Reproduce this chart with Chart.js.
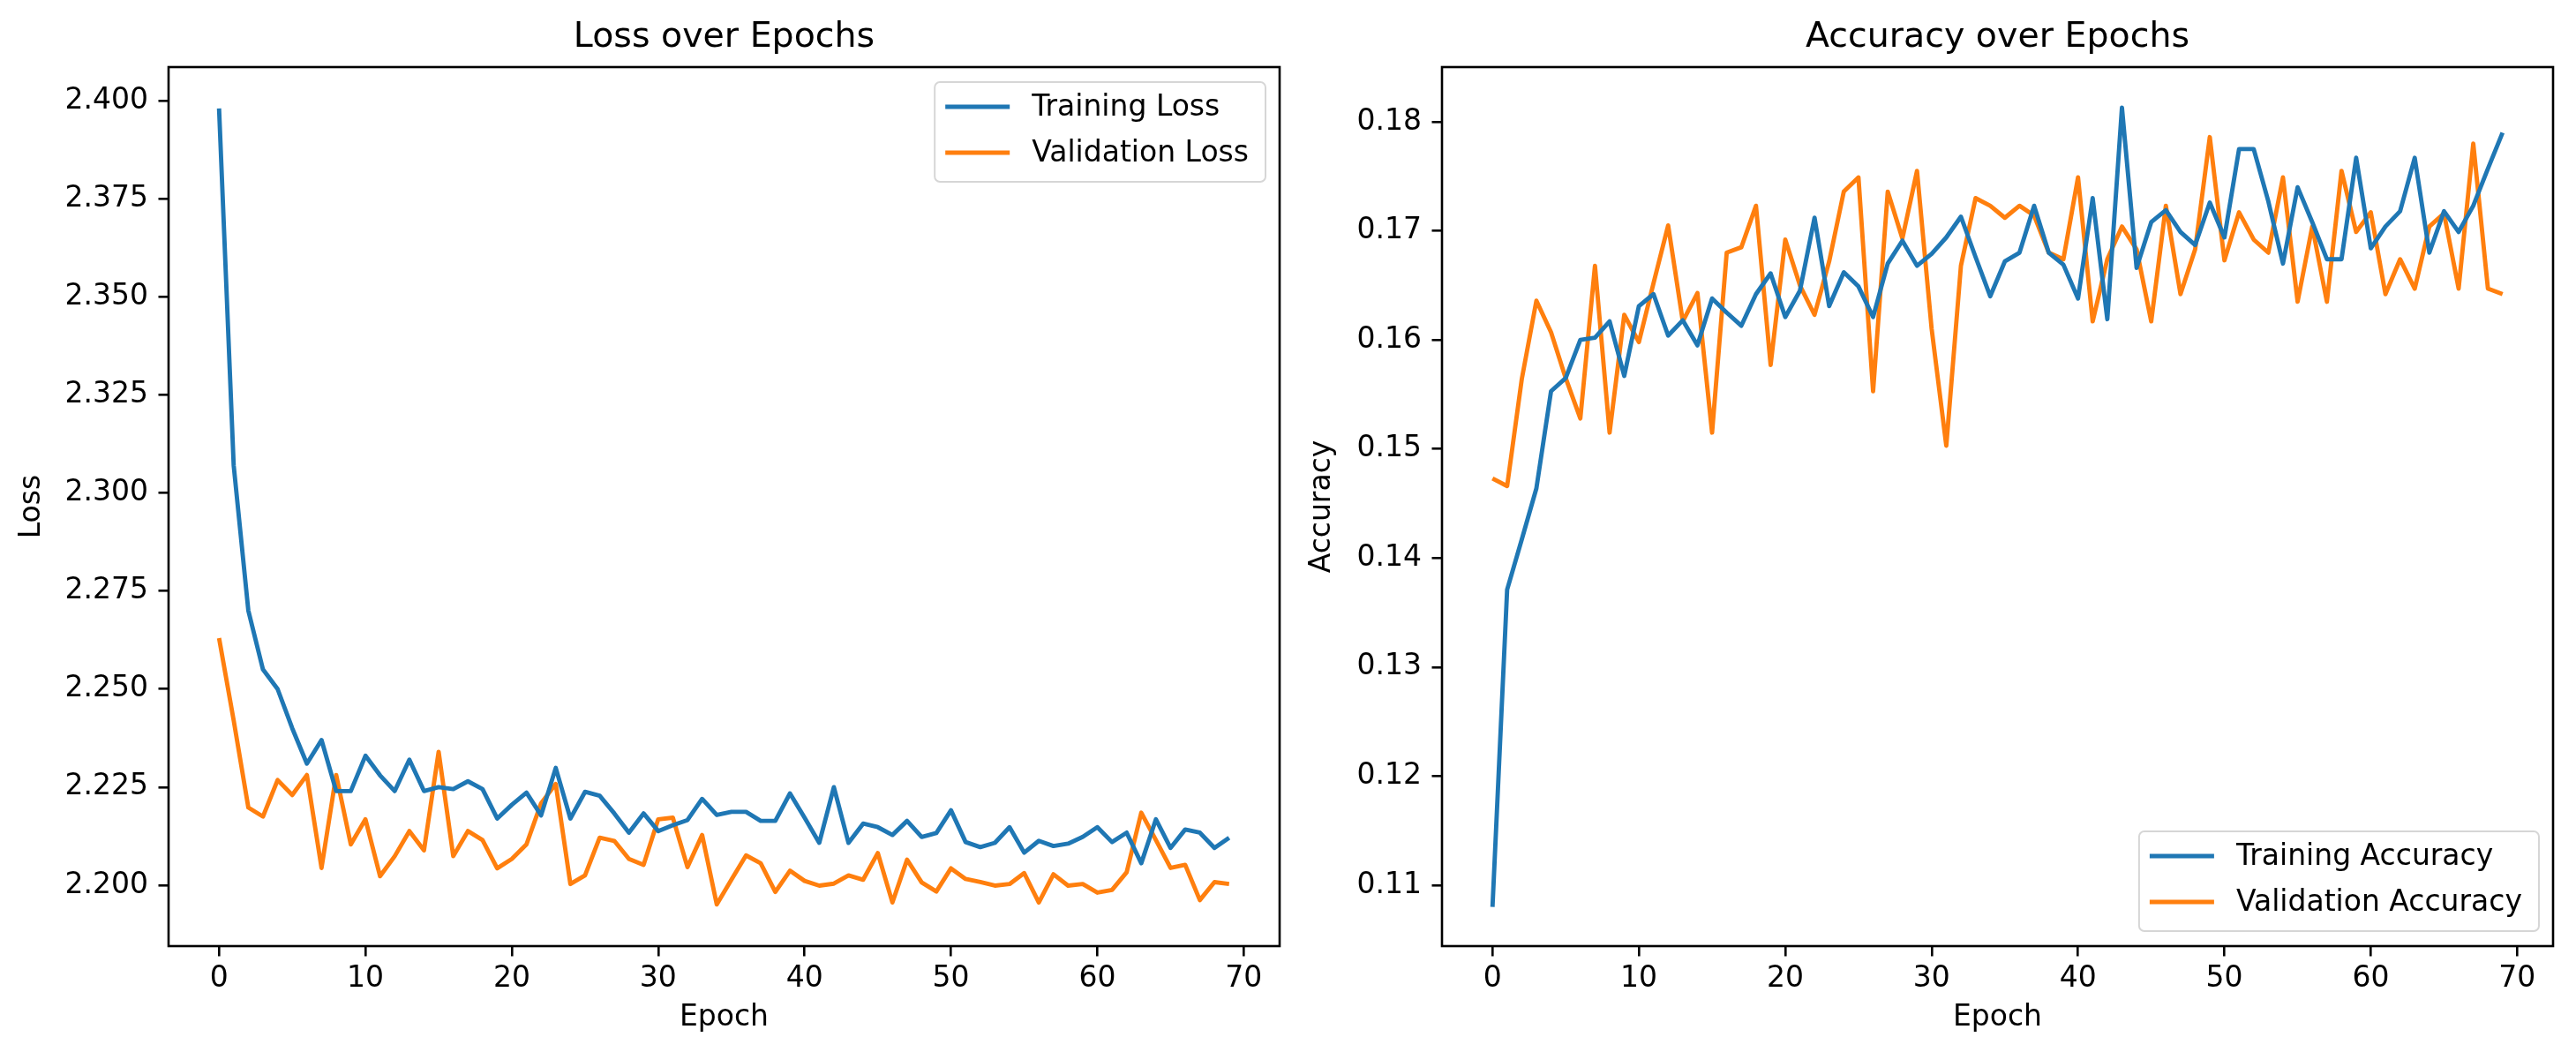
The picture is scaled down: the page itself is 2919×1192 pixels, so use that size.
<!DOCTYPE html>
<html>
<head>
<meta charset="utf-8">
<title>Loss and Accuracy over Epochs</title>
<script src="https://cdn.jsdelivr.net/npm/chart.js@4.4.1/dist/chart.umd.min.js"></script>
<style>
	body { margin: 0; background: #fff; }
	canvas { position: absolute; top: 0; }
</style>
</head>
<body>
<canvas id="lossChart" width="1460" height="1192" style="left:0"></canvas>
<canvas id="accChart" width="1459" height="1192" style="left:1460px"></canvas>
<script>
const epochs = [
	0, 1, 2, 3, 4, 5, 6, 7, 8, 9, 10, 11, 12, 13, 14, 15, 16, 17, 18, 19,
	20, 21, 22, 23, 24, 25, 26, 27, 28, 29, 30, 31, 32, 33, 34, 35, 36, 37, 38, 39,
	40, 41, 42, 43, 44, 45, 46, 47, 48, 49, 50, 51, 52, 53, 54, 55, 56, 57, 58, 59,
	60, 61, 62, 63, 64, 65, 66, 67, 68, 69,
];

const trainLoss = [
	2.398, 2.307, 2.270, 2.255, 2.250, 2.240, 2.231, 2.237, 2.224, 2.224,
	2.233, 2.228, 2.224, 2.232, 2.224, 2.225, 2.2245, 2.2265, 2.2245, 2.217,
	2.2205, 2.2236, 2.2178, 2.2299, 2.217, 2.2238, 2.2228, 2.2183, 2.2134, 2.2183,
	2.2138, 2.2153, 2.2166, 2.222, 2.2179, 2.2187, 2.2187, 2.2164, 2.2164, 2.2234,
	2.2172, 2.2108, 2.225, 2.2108, 2.2157, 2.2148, 2.2128, 2.2164, 2.2123, 2.2133,
	2.2191, 2.211, 2.2097, 2.2108, 2.2148, 2.2083, 2.2113, 2.21, 2.2106, 2.2123,
	2.2148, 2.211, 2.2134, 2.2056, 2.2168, 2.2095, 2.2142, 2.2134, 2.2095, 2.2121,
];

const valLoss = [
	2.263, 2.242, 2.2198, 2.2175, 2.2268, 2.223, 2.2281, 2.2044, 2.2281, 2.2104,
	2.2168, 2.2023, 2.2074, 2.2138, 2.2089, 2.234, 2.2074, 2.2138, 2.2115, 2.2043,
	2.2067, 2.2104, 2.2209, 2.2258, 2.2003, 2.2025, 2.2121, 2.2113, 2.2067, 2.2052,
	2.2168, 2.2172, 2.2046, 2.2128, 2.1951, 2.2014, 2.2076, 2.2056, 2.1983, 2.2037,
	2.2011, 2.1999, 2.2004, 2.2025, 2.2014, 2.2082, 2.1956, 2.2065, 2.2007, 2.1984,
	2.2043, 2.2016, 2.2008, 2.1999, 2.2003, 2.2031, 2.1956, 2.2028, 2.1999, 2.2003,
	2.1981, 2.1988, 2.2033, 2.2185, 2.2115, 2.2044, 2.2052, 2.1962, 2.2008, 2.2003,
];

const trainAcc = [
	0.108, 0.1371, 0.1417, 0.1464, 0.1553, 0.1565, 0.16, 0.1602, 0.1617, 0.1567,
	0.1631, 0.1642, 0.1604, 0.1618, 0.1595, 0.1638, 0.1625, 0.1613, 0.1642, 0.1661,
	0.1621, 0.1645, 0.1712, 0.1631, 0.1662, 0.1649, 0.1621, 0.167, 0.1691, 0.1668,
	0.1679, 0.1694, 0.1713, 0.1676, 0.164, 0.1672, 0.168, 0.1723, 0.168, 0.1669,
	0.1638, 0.173, 0.1619, 0.1813, 0.1666, 0.1708, 0.1719, 0.1699, 0.1687, 0.1726,
	0.1694, 0.1775, 0.1775, 0.1727, 0.167, 0.174, 0.1708, 0.1674, 0.1674, 0.1767,
	0.1684, 0.1704, 0.1718, 0.1767, 0.168, 0.1718, 0.1699, 0.1723, 0.1757, 0.179,
];

const valAcc = [
	0.1473, 0.1466, 0.1564, 0.1636, 0.1607, 0.1565, 0.1528, 0.1668, 0.1515, 0.1623,
	0.1598, 0.1652, 0.1705, 0.1617, 0.1643, 0.1515, 0.168, 0.1685, 0.1723, 0.1577,
	0.1692, 0.165, 0.1623, 0.1672, 0.1736, 0.1749, 0.1553, 0.1736, 0.1693, 0.1755,
	0.161, 0.1503, 0.1668, 0.173, 0.1723, 0.1712, 0.1723, 0.1714, 0.168, 0.1674,
	0.1749, 0.1617, 0.1674, 0.1704, 0.1683, 0.1617, 0.1723, 0.1642, 0.1683, 0.1786,
	0.1673, 0.1717, 0.1692, 0.168, 0.1749, 0.1635, 0.1704, 0.1635, 0.1755, 0.1699,
	0.1717, 0.1642, 0.1674, 0.1647, 0.1704, 0.1716, 0.1647, 0.178, 0.1647, 0.1642,
];

const BLUE = "#1f77b4";
const ORANGE = "#ff7f0e";

Chart.defaults.font.family = "'DejaVu Sans'";
Chart.defaults.color = "#000";

// matplotlib style box around the plot area
const frame = {
	id: "frame",
	afterDatasetsDraw(chart) {
		const { ctx, chartArea: a } = chart;
		ctx.save();
		ctx.strokeStyle = "#000";
		ctx.lineWidth = 2.6;
		ctx.strokeRect(a.left, a.top, a.right - a.left, a.bottom - a.top);
		ctx.restore();
	},
};

// legend drawn inside the plot area (top right or bottom right)
const boxLegend = {
	id: "boxLegend",
	afterDraw(chart, args, opts) {
		const { ctx, chartArea } = chart;
		const items = chart.data.datasets;
		ctx.save();
		ctx.font = "33px 'DejaVu Sans'";
		const textW = Math.max(...items.map((d) => ctx.measureText(d.label).width));
		const w = 110 + textW + 19;
		const h = 113;
		const x = chartArea.right - 16 - w;
		const y = opts.corner === "bottom" ? chartArea.bottom - 17 - h : chartArea.top + 17;

		ctx.beginPath();
		ctx.roundRect(x, y, w, h, 6);
		ctx.fillStyle = "rgba(255,255,255,0.8)";
		ctx.fill();
		ctx.lineWidth = 2;
		ctx.strokeStyle = "#d6d6d6";
		ctx.stroke();

		items.forEach((d, i) => {
			const ry = y + 28 + i * 52;
			ctx.strokeStyle = d.borderColor;
			ctx.lineWidth = 4.9;
			ctx.beginPath();
			ctx.moveTo(x + 12, ry);
			ctx.lineTo(x + 85, ry);
			ctx.stroke();
			ctx.fillStyle = "#000";
			ctx.textBaseline = "middle";
			ctx.textAlign = "left";
			ctx.fillText(d.label, x + 110, ry + 1);
		});
		ctx.restore();
	},
};

const tickGrid = {
	drawOnChartArea: false,
	drawTicks: true,
	tickLength: 11.5,
	lineWidth: 2.6,
	color: "#000",
};

function buildChart(id, o) {
	const ctx = document.getElementById(id).getContext("2d");
	return new Chart(ctx, {
		type: "line",
		data: {
			labels: epochs,
			datasets: [
				{
					label: o.names[0],
					data: o.series[0],
					borderColor: BLUE,
					backgroundColor: BLUE,
					borderWidth: 4.9,
					pointRadius: 0,
					tension: 0,
					borderJoinStyle: "round",
				},
				{
					label: o.names[1],
					data: o.series[1],
					borderColor: ORANGE,
					backgroundColor: ORANGE,
					borderWidth: 4.9,
					pointRadius: 0,
					tension: 0,
					borderJoinStyle: "round",
				},
			],
		},
		options: {
			responsive: false,
			devicePixelRatio: 1,
			animation: false,
			events: [],
			layout: { padding: { left: 0, top: 0, bottom: 0, right: o.padRight } },
			plugins: {
				legend: { display: false },
				tooltip: { enabled: false },
				title: {
					display: true,
					text: o.title,
					fullSize: false,
					color: "#000",
					font: { size: 39.5, weight: "normal" },
					padding: { top: 18.8, bottom: 9.8 },
				},
				boxLegend: { corner: o.legendCorner },
			},
			scales: {
				x: {
					type: "linear",
					min: -3.45,
					max: 72.45,
					afterFit: (s) => {
						s.height = 120;
					},
					border: { display: false },
					grid: tickGrid,
					ticks: {
						stepSize: 10,
						includeBounds: false,
						padding: 6,
						maxRotation: 0,
						color: "#000",
						font: { size: 33 },
					},
					title: {
						display: true,
						text: "Epoch",
						color: "#000",
						font: { size: 33 },
						padding: { top: 0, bottom: 18.6 },
					},
				},
				y: {
					min: o.yMin,
					max: o.yMax,
					afterFit: (s) => {
						s.width = o.yWidth;
					},
					border: { display: false },
					grid: tickGrid,
					ticks: {
						stepSize: o.yStep,
						includeBounds: false,
						padding: 11.5,
						autoSkip: false,
						color: "#000",
						font: { size: 33 },
						callback: (v) => v.toFixed(o.yDigits),
					},
					title: {
						display: true,
						text: o.yLabel,
						color: "#000",
						font: { size: 33 },
						padding: { top: o.yTitlePad, bottom: 0 },
					},
				},
			},
		},
		plugins: [frame, boxLegend],
	});
}

buildChart("lossChart", {
	title: "Loss over Epochs",
	names: ["Training Loss", "Validation Loss"],
	series: [trainLoss, valLoss],
	yLabel: "Loss",
	yMin: 2.18448,
	yMax: 2.40855,
	yStep: 0.025,
	yDigits: 3,
	yWidth: 191,
	yTitlePad: 16.8,
	padRight: 10,
	legendCorner: "top",
});

buildChart("accChart", {
	title: "Accuracy over Epochs",
	names: ["Training Accuracy", "Validation Accuracy"],
	series: [trainAcc, valAcc],
	yLabel: "Accuracy",
	yMin: 0.104416,
	yMax: 0.185018,
	yStep: 0.01,
	yDigits: 2,
	yWidth: 174,
	yTitlePad: 18.8,
	padRight: 26,
	legendCorner: "bottom",
});
</script>
</body>
</html>
